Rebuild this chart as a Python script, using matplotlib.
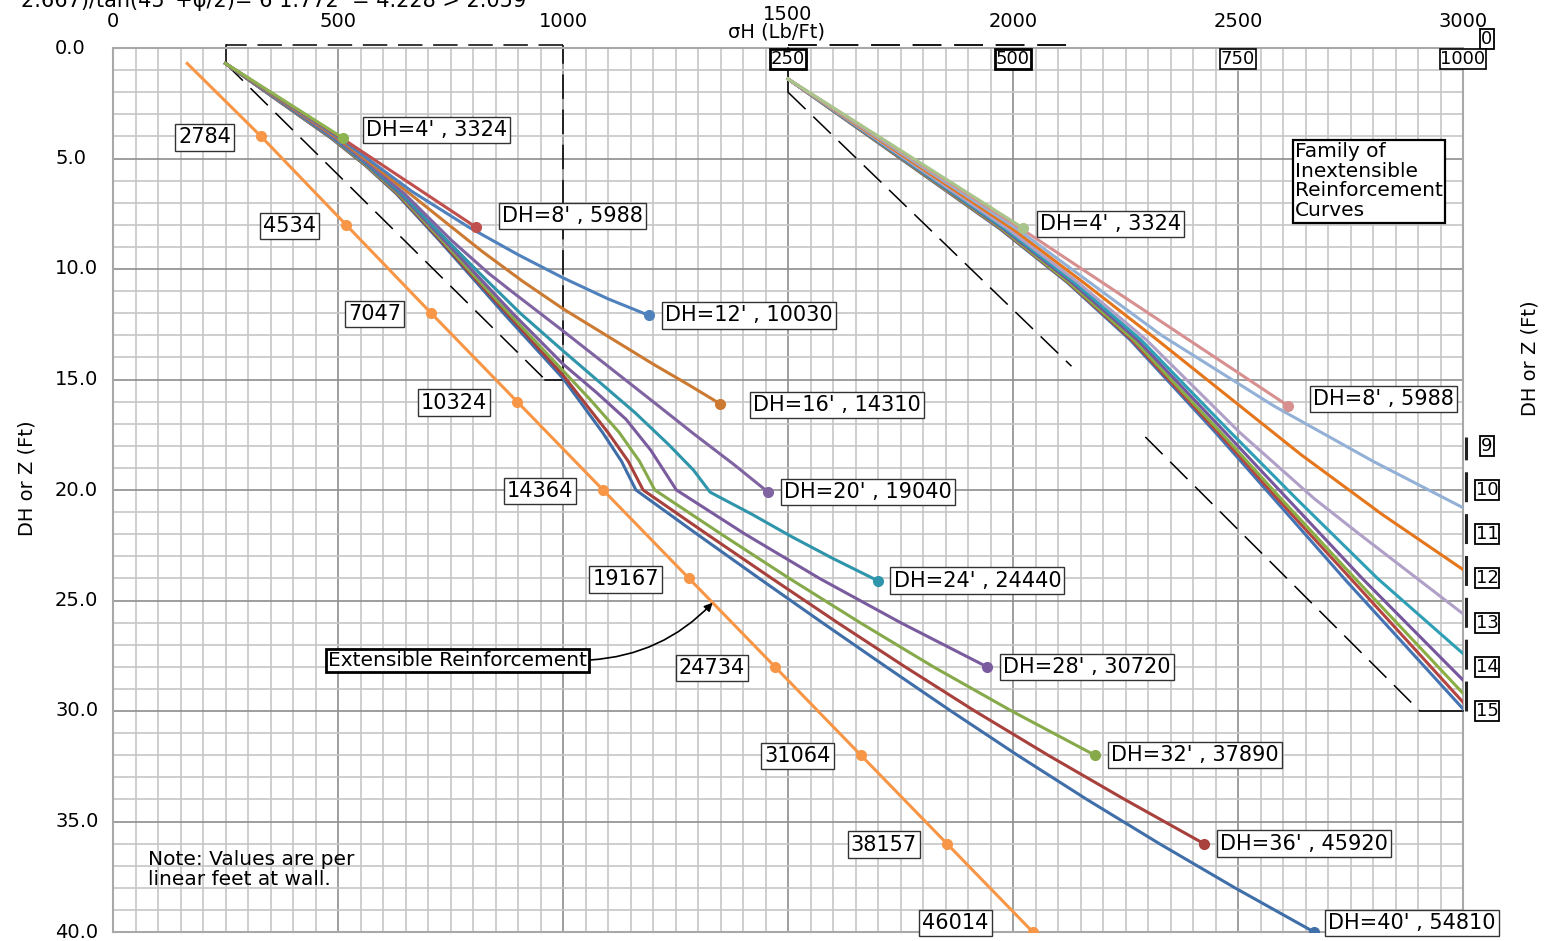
import numpy as np
import matplotlib
matplotlib.use("Agg")
import matplotlib.pyplot as plt
from matplotlib.transforms import ScaledTranslation, blended_transform_factory

plt.rcParams['font.family'] = ['DejaVu Sans']

# ------------------------------------------------------------------ data
wall_heights = [4, 8, 12, 16, 20, 24, 28, 32, 36, 40]
wall_totals = [3324, 5988, 10030, 14310, 19040, 24440, 30720, 37890, 45920, 54810]

# inextensible reinforcement curves : sigma_H (Lb/Ft) vs depth z (Ft)
sh_dh4 = [250, 511]
z_dh4 = [0.7, 4.07]
sh_dh8 = [250, 510, 806]
z_dh8 = [0.7, 4.1, 8.1]
sh_dh12 = [250, 505, 585, 665, 790, 900, 1000, 1100, 1191]
z_dh12 = [0.7, 4.1, 5.3, 6.5, 8.1, 9.35, 10.4, 11.35, 12.1]
sh_dh16 = [250, 500, 578, 660, 740, 820, 910, 1000, 1100, 1200, 1280, 1349]
z_dh16 = [0.7, 4.1, 5.3, 6.6, 7.9, 9.2, 10.55, 11.8, 13.05, 14.3, 15.25, 16.1]
sh_dh20 = [250, 495, 572, 648, 752, 835, 885, 1000, 1100, 1200, 1290, 1380, 1456]
z_dh20 = [0.7, 4.1, 5.3, 6.6, 8.7, 10.2, 11.0, 12.8, 14.4, 16.0, 17.45, 18.85, 20.1]
sh_dh24 = [250, 492, 568, 642, 742, 815, 905, 1000, 1080, 1160, 1235, 1290, 1327, 1420, 1507, 1600, 1699]
z_dh24 = [0.7, 4.1, 5.3, 6.6, 8.7, 10.2, 12.0, 13.7, 15.1, 16.5, 17.95, 19.1, 20.1, 21.1, 22.1, 23.1, 24.1]
sh_dh28 = [250, 490, 565, 638, 736, 805, 888, 1000, 1075, 1140, 1195, 1252, 1405, 1570, 1750, 1942]
z_dh28 = [0.7, 4.1, 5.3, 6.6, 8.7, 10.2, 12.0, 14.3, 15.6, 16.8, 18.2, 20.0, 22.0, 24.0, 26.0, 28.0]
sh_dh32 = [250, 488, 562, 634, 731, 798, 880, 1000, 1060, 1125, 1170, 1204, 1352, 1503, 1660, 1823, 1997, 2182]
z_dh32 = [0.7, 4.1, 5.3, 6.6, 8.7, 10.2, 12.0, 14.6, 15.9, 17.4, 18.7, 20.0, 22.0, 24.0, 26.0, 28.0, 30.0, 32.0]
sh_dh36 = [250, 487, 561, 632, 728, 794, 875, 1000, 1050, 1100, 1145, 1178, 1320, 1464, 1610, 1760, 1915, 2078, 2248, 2424]
z_dh36 = [0.7, 4.1, 5.3, 6.6, 8.7, 10.2, 12.0, 14.8, 16.1, 17.4, 18.7, 20.0, 22.0, 24.0, 26.0, 28.0, 30.0, 32.0, 34.0, 36.0]
sh_dh40 = [250, 486, 560, 630, 725, 790, 870, 1000, 1045, 1088, 1130, 1162, 1298, 1436, 1576, 1718, 1862, 2010, 2164, 2325, 2493, 2669]
z_dh40 = [0.7, 4.1, 5.3, 6.6, 8.7, 10.2, 12.05, 14.95, 16.2, 17.4, 18.7, 20.0, 22.0, 24.0, 26.0, 28.0, 30.0, 32.0, 34.0, 36.0, 38.0, 40.0]

# extensible reinforcement curve
ext_sh = [165, 329, 518, 707, 898, 1089, 1280, 1471, 1662, 1853, 2044]
ext_z = [0.7, 4, 8, 12, 16, 20, 24, 28, 32, 36, 40]
ext_totals = [2784, 4534, 7047, 10324, 14364, 19167, 24734, 31064, 38157, 46014]

# axes ticks
x_ticks = [0, 500, 1000, 1500, 2000, 2500, 3000]
y_ticks = [0, 5, 10, 15, 20, 25, 30, 35, 40]
zoom_x_ticks = [250, 500, 750, 1000]
zoom_y_ticks = [9, 10, 11, 12, 13, 14, 15]

# dashed outline of the enlarged region (main scale) and its enlargement
env_sh = [250, 250, 960, 1000, 1000, 250]
env_z = [-0.15, 0.7, 15.0, 15.0, -0.15, -0.15]
env_styles = ['-', '--', '-', '--', '--']
zenv_sh = [250, 250, 565, 647, 952, 1000]
zenv_z = [0.0, 1.0, 7.2, 8.8, 15.0, 15.0]
zenv_styles = ['-', '--', None, '--', '-']
zenv_top_sh = [250, 565]
zenv_top_z = [-0.07, -0.07]

# ------------------------------------------------------------------ style
left_colors = ['#8db351', '#c0504d', '#4f81bd', '#cc7a32', '#8064a2',
               '#2e95ab', '#7a5c9e', '#86a94a', '#a8403c', '#3f6ea9']
right_colors = ['#a9c58b', '#d7908f', '#93b0d6', '#e5761c', '#b0a0c8',
                '#2f9fb6', '#76569c', '#89ae44', '#b64541', '#4474b3']
ext_color = '#f79646'
PT = 0.72  # points per pixel at 100 dpi
LBL_FS = 15
LBL_BOX = dict(boxstyle='square,pad=0.15', fc='white', ec='#333333', lw=1.0)

curves_sh = [sh_dh4, sh_dh8, sh_dh12, sh_dh16, sh_dh20, sh_dh24, sh_dh28, sh_dh32, sh_dh36, sh_dh40]
curves_z = [z_dh4, z_dh8, z_dh12, z_dh16, z_dh20, z_dh24, z_dh28, z_dh32, z_dh36, z_dh40]
left_label_off = [(20, -8), (23, -11), (13, 0), (30, 1), (13, 0), (13, 0), (13, 0), (13, 0), (13, 0), (11, -9)]
right_label_off = [(14, -4), (22, -7)]

W, H = 1551, 941
L, R, T, B = 113, 1463, 48, 932

fig = plt.figure(figsize=(W / 100, H / 100), dpi=100)
ax = fig.add_axes([L / W, 1 - B / H, (R - L) / W, (B - T) / H])
ax.set_xlim(0, 3000)
ax.set_ylim(40, 0)
ax.set_xticks(x_ticks)
ax.set_xticks(np.arange(0, 3001, 50), minor=True)
ax.set_yticks(y_ticks)
ax.set_yticks(np.arange(0, 41, 1), minor=True)
ax.xaxis.tick_top()
ax.set_xticklabels([str(v) for v in x_ticks])
ax.set_yticklabels([])
ax.tick_params(which='both', length=0)
ax.tick_params(axis='x', pad=12, labelsize=14)
ax.grid(which='minor', color='#c6c6c6', lw=1.2)
ax.grid(which='major', color='#8e8e8e', lw=1.2)
ax.set_axisbelow(True)
for s in ax.spines.values():
    s.set_color('#a8a8a8')
    s.set_linewidth(1.5)

# depth labels: left-aligned column as in the original drawing
tr_left = blended_transform_factory(ax.transAxes, ax.transData)
for v in y_ticks:
    ax.text((55 - L) / (R - L), v, f"{v:.1f}", transform=tr_left,
            ha='left', va='center', fontsize=14)

ax.set_xlabel('σH (Lb/Ft)', fontsize=14)
ax.xaxis.set_label_position('top')
ax.xaxis.set_label_coords((777 - L) / (R - L), (B - 32) / (B - T))
ax.xaxis.label.set_va('center')
ax.set_ylabel('DH or Z (Ft)', fontsize=14)
ax.yaxis.set_label_coords((27 - L) / (R - L), (B - 478) / (B - T))
ax.yaxis.label.set_va('center')

# partially cut text at the very top
fig.text(21 / W, 1 - 7 / H, "2.667)/tan(45°+φ/2)= 6 1.772  = 4.228 > 2.059",
         fontsize=15, ha='left', va='baseline')

# dashed outline (main scale)
for i, st in enumerate(env_styles):
    ax.plot(env_sh[i:i + 2], env_z[i:i + 2], color='black', lw=1.1,
            ls=st if st == '-' else (0, (16, 7)), zorder=2, clip_on=False)

# inextensible curves (main scale)
for i in reversed(range(len(curves_sh))):
    ax.plot(curves_sh[i], curves_z[i], color=left_colors[i], lw=2.2, zorder=3,
            marker='o', ms=7, markevery=[len(curves_sh[i]) - 1])
for i in range(len(curves_sh)):
    dx, dy = left_label_off[i]
    ax.annotate(f"DH={wall_heights[i]}' , {wall_totals[i]}",
                xy=(curves_sh[i][-1], curves_z[i][-1]),
                xytext=((dx + 3) * PT, -dy * PT), textcoords='offset points',
                ha='left', va='center', fontsize=LBL_FS, zorder=6, annotation_clip=False,
                bbox=LBL_BOX)

# extensible curve
ax.plot(ext_sh, ext_z, color=ext_color, lw=2.2, zorder=3,
        marker='o', ms=7, markevery=list(range(1, len(ext_sh))))
for j, tot in enumerate(ext_totals):
    dx, dy = (41, -9) if j == len(ext_totals) - 1 else (27, 1)
    ax.annotate(str(tot), xy=(ext_sh[j + 1], ext_z[j + 1]),
                xytext=(-(dx + 3) * PT, -dy * PT), textcoords='offset points',
                ha='right', va='center', fontsize=LBL_FS, zorder=6, annotation_clip=False,
                bbox=LBL_BOX)

arrow_z = 25.1
ax.annotate('Extensible Reinforcement',
            xy=(np.interp(arrow_z, ext_z, ext_sh), arrow_z), xytext=(765, 27.7),
            ha='center', va='center', fontsize=14.5, zorder=6,
            bbox=dict(boxstyle='square,pad=0.1', fc='white', ec='black', lw=2.0),
            arrowprops=dict(arrowstyle='-|>', color='black', lw=1.2, mutation_scale=12,
                            relpos=(1.0, 0.5), shrinkA=0, shrinkB=0,
                            connectionstyle='arc3,rad=0.2'))

ax.text(78, 36.3, "Note: Values are per\nlinear feet at wall.", fontsize=14.5,
        ha='left', va='top', linespacing=1.05, zorder=6)

# ------------------------------------------------------------------ enlarged family (secondary scale)
ax2 = fig.add_axes(ax.get_position(), label='zoom')
ax2.set_xlim(-500, 1000)
ax2.set_ylim(20, 0)
ax2.set_axis_off()

for i, st in enumerate(zenv_styles):
    if st is None:
        continue
    ax2.plot(zenv_sh[i:i + 2], zenv_z[i:i + 2], color='black', lw=1.1,
             ls=st if st == '-' else (0, (16, 7)), zorder=2, clip_on=False)
ax2.plot(zenv_top_sh, zenv_top_z, color='black', lw=1.3, ls=(0, (16, 7)), clip_on=False)

for i in reversed(range(len(curves_sh))):
    ax2.plot(curves_sh[i], curves_z[i], color=right_colors[i], lw=2.2, zorder=3,
             marker='o', ms=7, markevery=[len(curves_sh[i]) - 1])
for i in range(len(right_label_off)):
    dx, dy = right_label_off[i]
    ax2.annotate(f"DH={wall_heights[i]}' , {wall_totals[i]}",
                 xy=(curves_sh[i][-1], curves_z[i][-1]),
                 xytext=((dx + 3) * PT, -dy * PT), textcoords='offset points',
                 ha='left', va='center', fontsize=LBL_FS, zorder=6, bbox=LBL_BOX)

for v in zoom_x_ticks:
    ax2.text(v, 0.25, str(v), ha='center', va='center', fontsize=13, zorder=7,
             bbox=dict(boxstyle='square,pad=0.04', fc='white', ec='black',
                       lw=2.0 if v <= 500 else 1.2))

tr_right = blended_transform_factory(ax2.transAxes, ax2.transData)
for v in zoom_y_ticks:
    ax2.text((1487 - L) / (R - L), v, str(v), transform=tr_right, ha='center', va='center',
             fontsize=13, bbox=dict(boxstyle='square,pad=0.05', fc='white', ec='black', lw=1.3))
ax2.text((1487 - L) / (R - L), -0.2, "0", transform=tr_right, ha='center', va='center',
         fontsize=13, bbox=dict(boxstyle='square,pad=0.05', fc='white', ec='black', lw=1.3))
ax2.plot([1003.5, 1003.5], [15.0, 8.8], color='#222222', lw=2.2,
         ls=(0, (9.8, 3.9)), clip_on=False)

ax2.text((1530 - L) / (R - L), (B - 358) / (B - T), "DH or Z (Ft)", transform=ax2.transAxes,
         rotation=90, ha='center', va='center', rotation_mode='anchor', fontsize=14)

ax2.text(2627 / 2 - 500, 4.25 / 2, "Family of\nInextensible\nReinforcement\nCurves",
         ha='left', va='top', fontsize=14.5, linespacing=1.05, zorder=6,
         bbox=dict(boxstyle='square,pad=0.12', fc='white', ec='black', lw=1.6))

# 1500 label sits a little higher than the others
lbl = ax.xaxis.get_major_ticks()[3].label2
lbl.set_transform(lbl.get_transform() + ScaledTranslation(0, 7 / 100, fig.dpi_scale_trans))

fig.savefig("out.png", dpi=100)
